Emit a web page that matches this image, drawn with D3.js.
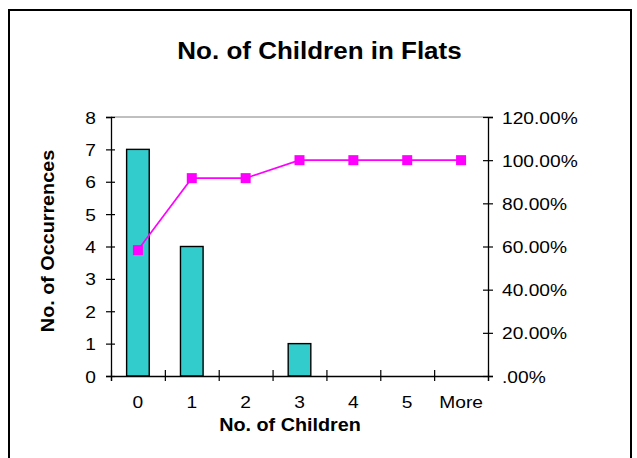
<!DOCTYPE html>
<html>
<head>
<meta charset="utf-8">
<script src="https://cdn.jsdelivr.net/npm/d3@7"></script>
<style>
  html, body { margin: 0; padding: 0; background: #fff; }
  svg { display: block; }
  text { font-family: "Liberation Sans", Arial, sans-serif; fill: #000; }
</style>
</head>
<body>
<svg id="chart" width="637" height="458"></svg>
<script>
// Histogram of children per flat, with cumulative percentage
const categories = ["0", "1", "2", "3", "4", "5", "More"];
const frequency = [7, 4, 0, 1, 0, 0, 0];
const cumulativePct = [58.33, 91.67, 91.67, 100, 100, 100, 100];
const leftTicks = [0, 1, 2, 3, 4, 5, 6, 7, 8];
const rightTicks = [0, 20, 40, 60, 80, 100, 120];
const rightTickLabels = [".00%", "20.00%", "40.00%", "60.00%", "80.00%", "100.00%", "120.00%"];

const title = "No. of Children in Flats";
const xTitle = "No. of Children";
const yTitle = "No. of Occurrences";

const plot = { left: 111, right: 488, top: 117, bottom: 376 };
const sx = 1.13; // horizontal glyph widening
const tickFont = "17px";

const svg = d3.select("#chart");

// outer chart frame
svg.append("rect")
  .attr("x", 9).attr("y", 10)
  .attr("width", 622).attr("height", 470)
  .attr("fill", "#fff").attr("stroke", "#000").attr("stroke-width", 2);

const x = d3.scaleBand().domain(categories).range([plot.left, plot.right]).padding(0);
const xEdges = d3.scaleLinear().domain([0, categories.length]).range([plot.left, plot.right]);
const yLeft = d3.scaleLinear().domain([0, 8]).range([plot.bottom, plot.top]);
const yRight = d3.scaleLinear().domain([0, 120]).range([plot.bottom, plot.top]);

// plot area top border
svg.append("line")
  .attr("x1", plot.left).attr("x2", plot.right)
  .attr("y1", plot.top).attr("y2", plot.top)
  .attr("stroke", "#808080").attr("stroke-width", 1);

// bars
const barW = x.bandwidth() * 0.42;
svg.append("g").selectAll("rect")
  .data(frequency)
  .join("rect")
  .attr("x", (d, i) => x(categories[i]) + (x.bandwidth() - barW) / 2)
  .attr("y", d => yLeft(d))
  .attr("width", barW)
  .attr("height", d => yLeft(0) - yLeft(d))
  .attr("fill", "#33CCCC")
  .attr("stroke", "#000")
  .attr("stroke-width", 1.4);

// left axis
const gL = svg.append("g")
  .attr("transform", `translate(${plot.left},0)`)
  .call(d3.axisLeft(yLeft).tickValues(leftTicks).tickFormat(d3.format("d")).tickSize(5).tickPadding(0));
gL.select(".domain").attr("stroke", "#000").attr("stroke-width", 1.3);
gL.selectAll(".tick line").attr("x1", 4).attr("x2", -5).attr("stroke", "#000").attr("stroke-width", 1.2);
gL.selectAll(".tick text")
  .attr("x", -15 / sx).attr("dy", "0.36em")
  .attr("transform", `scale(${sx},1)`)
  .style("font-size", tickFont).style("font-family", "'Liberation Sans', Arial, sans-serif");

// right axis
const gR = svg.append("g")
  .attr("transform", `translate(${plot.right},0)`)
  .call(d3.axisRight(yRight).tickValues(rightTicks)
    .tickFormat((d, i) => rightTickLabels[i]).tickSize(5).tickPadding(0));
gR.select(".domain").attr("stroke", "#000").attr("stroke-width", 1.3);
gR.selectAll(".tick line").attr("x1", -5).attr("x2", 5).attr("stroke", "#000").attr("stroke-width", 1.2);
gR.selectAll(".tick text")
  .attr("x", 14 / sx).attr("dy", "0.36em")
  .attr("transform", `scale(${sx},1)`)
  .style("font-size", tickFont).style("font-family", "'Liberation Sans', Arial, sans-serif");

// bottom axis: boundary ticks
const gB = svg.append("g")
  .attr("transform", `translate(0,${plot.bottom})`)
  .call(d3.axisBottom(xEdges).tickValues(d3.range(categories.length + 1)).tickFormat("").tickSize(5));
gB.select(".domain").attr("stroke", "#000").attr("stroke-width", 1.3);
gB.selectAll(".tick line").attr("y1", -6).attr("y2", 5).attr("stroke", "#000").attr("stroke-width", 1.2);

// bottom axis: category labels
const gBL = svg.append("g")
  .attr("transform", `translate(0,${plot.bottom})`)
  .call(d3.axisBottom(x).tickSize(0).tickPadding(0));
gBL.select(".domain").remove();
gBL.selectAll(".tick text")
  .attr("y", 32).attr("dy", 0)
  .attr("transform", `scale(${sx},1)`)
  .style("font-size", tickFont).style("font-family", "'Liberation Sans', Arial, sans-serif");

// cumulative line
const line = d3.line()
  .x((d, i) => x(categories[i]) + x.bandwidth() / 2)
  .y(d => yRight(d));
svg.append("path")
  .datum(cumulativePct)
  .attr("d", line)
  .attr("fill", "none")
  .attr("stroke", "#FF00FF")
  .attr("stroke-width", 1.6);

const m = 10;
svg.append("g").selectAll("rect")
  .data(cumulativePct)
  .join("rect")
  .attr("x", (d, i) => x(categories[i]) + x.bandwidth() / 2 - m / 2)
  .attr("y", d => yRight(d) - m / 2)
  .attr("width", m).attr("height", m)
  .attr("fill", "#FF00FF");

// titles
svg.append("text")
  .attr("transform", `translate(319.5,59) scale(${sx},1)`)
  .attr("text-anchor", "middle")
  .style("font-size", "23px").style("font-weight", "bold")
  .text(title);

svg.append("text")
  .attr("transform", `translate(290,431) scale(${sx},1)`)
  .attr("text-anchor", "middle")
  .style("font-size", "17.5px").style("font-weight", "bold")
  .text(xTitle);

svg.append("text")
  .attr("transform", `translate(54,241) rotate(-90) scale(${sx},1)`)
  .attr("text-anchor", "middle")
  .style("font-size", "17.5px").style("font-weight", "bold")
  .text(yTitle);
</script>
</body>
</html>
